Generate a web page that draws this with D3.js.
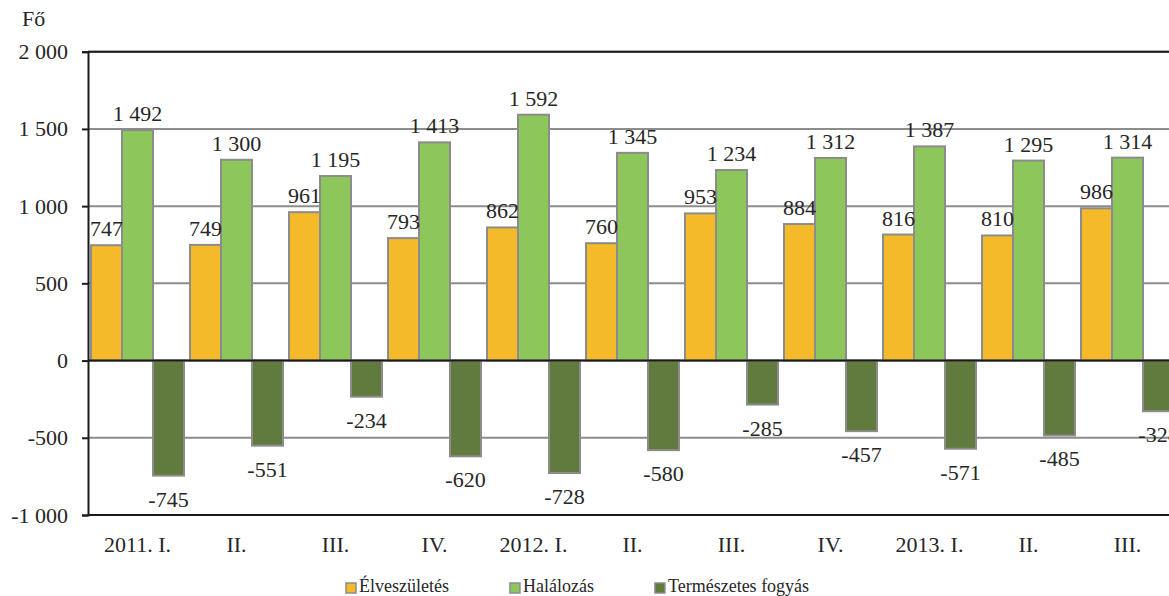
<!DOCTYPE html>
<html>
<head>
<meta charset="utf-8">
<script src="https://cdnjs.cloudflare.com/ajax/libs/d3/7.8.5/d3.min.js"></script>
<style>
    body { margin: 0; background: #fff; }
    svg { display: block; }
    svg text { font-family: "Liberation Serif", "Times New Roman", serif; }
</style>
</head>
<body>
<div id="chart"></div>
<script>
// Quarters (labels repeat, so bars are keyed by index)
const categories = ["2011. I.", "II.", "III.", "IV.", "2012. I.", "II.", "III.", "IV.", "2013. I.", "II.", "III."];
const births = [747, 749, 961, 793, 862, 760, 953, 884, 816, 810, 986];
const deaths = [1492, 1300, 1195, 1413, 1592, 1345, 1234, 1312, 1387, 1295, 1314];
const naturalDecrease = [-745, -551, -234, -620, -728, -580, -285, -457, -571, -485, -328];
const seriesNames = ["Élveszületés", "Halálozás", "Természetes fogyás"];
const yTicks = [-1000, -500, 0, 500, 1000, 1500, 2000];
const unitLabel = "Fő";

const colors = ["#f5ba2a", "#8dc65a", "#617a3e"];
const width = 1169;
const height = 596;
const textColor = "#262626";
const serif = "'Liberation Serif', 'Times New Roman', serif";

const huLocale = d3.formatLocale({ decimal: ",", thousands: "\u00a0", grouping: [3], currency: ["", ""], minus: "-" });
const fmt = huLocale.format(",d");

const series = [births, deaths, naturalDecrease];

const svg = d3.select("#chart")
    .append("svg")
    .attr("width", width)
    .attr("height", height)
    .attr("font-family", serif)

// Scales - plot runs past the right edge, as in the reference
const x = d3.scaleBand()
    .domain(d3.range(categories.length))
    .range([88, 1177])

const xSub = d3.scaleBand()
    .domain(d3.range(series.length))
    .range([3, x.bandwidth() - 3])

const y = d3.scaleLinear()
    .domain([-1000, 2000])
    .range([515, 51.7])

// Gridlines
svg.append("g")
    .selectAll("line")
    .data(yTicks)
    .enter()
    .append("line")
    .attr("x1", 88)
    .attr("x2", width)
    .attr("y1", d => y(d))
    .attr("y2", d => y(d))
    .attr("stroke", "#8c8c8c")
    .attr("stroke-width", 2)

// Bars
const groups = svg.append("g")
    .selectAll("g")
    .data(categories.map((c, i) => i))
    .enter()
    .append("g")
    .attr("transform", i => `translate(${x(i)},0)`)

groups.selectAll("rect")
    .data(i => series.map((s, k) => ({ k: k, v: s[i] })))
    .enter()
    .append("rect")
    .attr("x", d => xSub(d.k))
    .attr("width", xSub.bandwidth())
    .attr("y", d => y(Math.max(0, d.v)))
    .attr("height", d => Math.abs(y(d.v) - y(0)))
    .attr("fill", d => colors[d.k])
    .attr("stroke", "#8c8c8c")
    .attr("stroke-width", 2)

// Value labels
groups.selectAll("text")
    .data(i => series.map((s, k) => ({ k: k, v: s[i] })))
    .enter()
    .append("text")
    .attr("x", d => xSub(d.k) + xSub.bandwidth() / 2)
    .attr("y", d => d.v >= 0 ? y(d.v) - 9 : y(d.v) + 31)
    .attr("text-anchor", "middle")
    .attr("font-family", serif)
    .attr("font-size", 22)
    .attr("fill", textColor)
    .text(d => fmt(d.v))

// Dark lines: top, zero, bottom
svg.append("g")
    .selectAll("line")
    .data([2000, 0, -1000])
    .enter()
    .append("line")
    .attr("x1", 88)
    .attr("x2", width)
    .attr("y1", d => y(d))
    .attr("y2", d => y(d))
    .attr("stroke", "#1a1a1a")
    .attr("stroke-width", 2)

// Y axis
const yAxis = svg.append("g")
    .attr("transform", "translate(88,0)")
    .call(d3.axisLeft(y).tickValues(yTicks).tickSize(6).tickPadding(14).tickFormat(fmt))
    .attr("font-family", serif)

yAxis.select(".domain").attr("stroke", "#1a1a1a").attr("stroke-width", 2)
yAxis.selectAll(".tick line").attr("stroke", "#1a1a1a").attr("stroke-width", 2)
yAxis.selectAll(".tick text")
    .attr("font-size", 22)
    .attr("font-family", serif)
    .attr("fill", textColor)

// X axis labels
const xAxis = svg.append("g")
    .attr("transform", `translate(0,${y(-1000)})`)
    .call(d3.axisBottom(x).tickSize(0).tickPadding(21).tickFormat(i => categories[i]))
    .attr("font-family", serif)

xAxis.select(".domain").remove()
xAxis.selectAll(".tick text")
    .attr("font-size", 22)
    .attr("font-family", serif)
    .attr("fill", textColor)

// Unit label
svg.append("text")
    .attr("x", 22)
    .attr("y", 26)
    .attr("font-family", serif)
    .attr("font-size", 22)
    .attr("fill", textColor)
    .text(unitLabel)

// Legend
const legend = svg.append("g")
    .attr("transform", "translate(345,0)")

let legendX = 0;
seriesNames.forEach((name, k) => {
    legend.append("rect")
        .attr("x", legendX + 1)
        .attr("y", 583)
        .attr("width", 10)
        .attr("height", 10)
        .attr("fill", colors[k])
        .attr("stroke", "#8c8c8c")
        .attr("stroke-width", 1.5)
    const t = legend.append("text")
        .attr("x", legendX + 14)
        .attr("y", 592)
        .attr("font-family", serif)
        .attr("font-size", 18)
        .attr("fill", textColor)
        .text(name)
    legendX += 14 + t.node().getComputedTextLength() + 60;
})
</script>
</body>
</html>
